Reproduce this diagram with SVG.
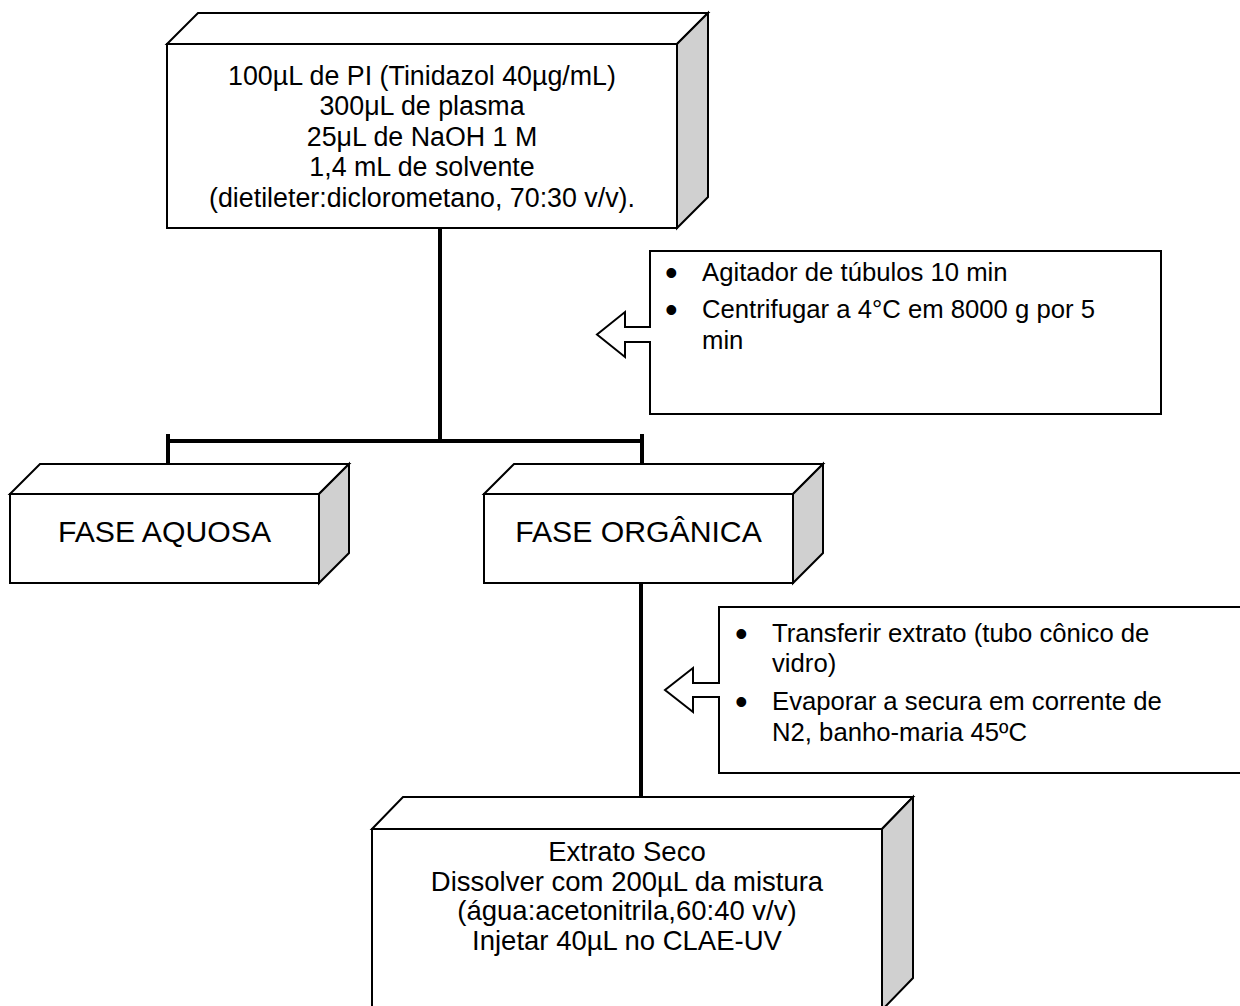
<svg xmlns="http://www.w3.org/2000/svg" width="1240" height="1006" viewBox="0 0 1240 1006">
<style>
.face{fill:#ffffff;stroke:#000;stroke-width:2;stroke-linejoin:miter}
.side{fill:#d0d0d0;stroke:#000;stroke-width:2;stroke-linejoin:miter}
.conn{stroke:#000;stroke-width:4;fill:none}
.t{font-family:"Liberation Sans",Arial,sans-serif;fill:#000}
.c{text-anchor:middle}
.b{font-family:"Liberation Sans",Arial,sans-serif;fill:#000;font-size:36px}
</style>
<rect width="1240" height="1006" fill="#fff"/>
<g id="connectors">
<line class="conn" x1="440" y1="228" x2="440" y2="441"/>
<line class="conn" x1="168" y1="441" x2="642" y2="441"/>
<line class="conn" x1="168" y1="434" x2="168" y2="472"/>
<line class="conn" x1="642" y1="434" x2="642" y2="472"/>
<line class="conn" x1="641" y1="583" x2="641" y2="797"/>
</g>
<g id="node-top">
<polygon class="face" points="167,44 198,13 708,13 677,44"/>
<polygon class="side" points="677,44 708,13 708,197 677,228"/>
<rect class="face" x="167" y="44" width="510" height="184"/>
<text class="t c" font-size="26.8" x="422" y="85">100µL de PI (Tinidazol 40µg/mL)</text>
<text class="t c" font-size="26.8" x="422" y="115">300μL de plasma</text>
<text class="t c" font-size="26.8" x="422" y="146">25μL de NaOH 1 M</text>
<text class="t c" font-size="26.8" x="422" y="176">1,4 mL de solvente</text>
<text class="t c" font-size="26.8" x="422" y="207">(dietileter:diclorometano, 70:30 v/v).</text>
</g>
<g id="callout-1">
<polygon class="face" points="650,251 1161,251 1161,414 650,414 650,342 625,342 625,357 597,334.5 625,312 625,327 650,327"/>
<text class="b" x="665" y="285">•</text>
<text class="t" font-size="25.7" x="702" y="281">Agitador de túbulos 10 min</text>
<text class="b" x="665" y="322">•</text>
<text class="t" font-size="25.7" x="702" y="318">Centrifugar a 4°C em 8000 g por 5</text>
<text class="t" font-size="25.7" x="702" y="349">min</text>
</g>
<g id="node-aquosa">
<polygon class="face" points="10,494 40,464 349,464 319,494"/>
<polygon class="side" points="319,494 349,464 349,553 319,583"/>
<rect class="face" x="10" y="494" width="309" height="89"/>
<text class="t c" font-size="30.2" x="164.5" y="542">FASE AQUOSA</text>
</g>
<g id="node-organica">
<polygon class="face" points="484,494 514,464 823,464 793,494"/>
<polygon class="side" points="793,494 823,464 823,553 793,583"/>
<rect class="face" x="484" y="494" width="309" height="89"/>
<text class="t c" font-size="30.2" x="638.5" y="542">FASE ORGÂNICA</text>
</g>
<g id="callout-2">
<polygon class="face" points="719,607 1250,607 1250,773 719,773 719,697 693,697 693,712 665,690 693,668 693,683 719,683"/>
<text class="b" x="735" y="646">•</text>
<text class="t" font-size="25.7" x="772" y="642">Transferir extrato (tubo cônico de</text>
<text class="t" font-size="25.7" x="772" y="672">vidro)</text>
<text class="b" x="735" y="714">•</text>
<text class="t" font-size="25.7" x="772" y="710">Evaporar a secura em corrente de</text>
<text class="t" font-size="25.7" x="772" y="741">N2, banho-maria 45ºC</text>
</g>
<g id="node-bottom">
<polygon class="face" points="372,829 403,797 913,797 882,829"/>
<polygon class="side" points="882,829 913,797 913,978 882,1010"/>
<rect class="face" x="372" y="829" width="510" height="181"/>
<text class="t c" font-size="27.5" x="627" y="861">Extrato Seco</text>
<text class="t c" font-size="27.5" x="627" y="891">Dissolver com 200µL da mistura</text>
<text class="t c" font-size="27.5" x="627" y="920">(água:acetonitrila,60:40 v/v)</text>
<text class="t c" font-size="27.5" x="627" y="950">Injetar 40µL no CLAE-UV</text>
</g>
</svg>
